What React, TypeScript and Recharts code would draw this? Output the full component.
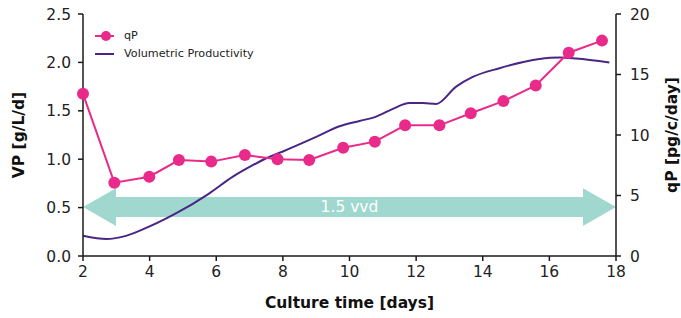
import React from "react";
import {
  ComposedChart,
  Line,
  XAxis,
  YAxis,
  ReferenceArea,
} from "recharts";

const qpDays = [2, 2.94, 3.99, 4.88, 5.85, 6.86, 7.84, 8.79, 9.81, 10.76, 11.67, 12.7, 13.64, 14.62, 15.59, 16.58, 17.58];
const qpValues = [13.4, 6.06, 6.55, 7.93, 7.8, 8.35, 7.99, 7.93, 8.95, 9.45, 10.8, 10.8, 11.8, 12.8, 14.1, 16.8, 17.8];

const vpDays = [2, 2.71, 3.2, 3.76, 4.76, 5.76, 6.5, 7, 7.5, 8, 9, 9.7, 10.3, 10.8, 11.3, 11.8, 12.2, 12.6, 13.2, 13.7, 14.5, 15.7, 16.3, 16.8, 17.8];
const vpValues = [0.21, 0.176, 0.2, 0.27, 0.434, 0.64, 0.82, 0.92, 1.01, 1.08, 1.23, 1.34, 1.395, 1.44, 1.52, 1.58, 1.58, 1.57, 1.75, 1.85, 1.94, 2.035, 2.05, 2.04, 2.0];

const xTicks = [2, 4, 6, 8, 10, 12, 14, 16, 18];
const vpTicks = [0, 0.5, 1, 1.5, 2, 2.5];
const qpTicks = [0, 5, 10, 15, 20];

// arrow band (in VP units) and its label
const arrowSpan = [0.31, 0.7];
const arrowLabel = "1.5 vvd";

const PINK = "#ea2a8a";
const PURPLE = "#4a2586";
const TEAL = "#a0d8cf";
const FONT = "'DejaVu Sans', Verdana, sans-serif";

const qpData = qpDays.map((d, i) => ({ day: d, qP: qpValues[i] }));
const vpData = vpDays.map((d, i) => ({ day: d, vp: vpValues[i] }));

const tickStyle = { fill: "#222", fontSize: 15.5, fontFamily: FONT };
const titleStyle = { fill: "#111", fontSize: 15.5, fontWeight: "bold", fontFamily: FONT };

function Arrow(props: any) {
  const { x, y, width: w, height: h } = props;
  const cy = y + h / 2;
  const b = (h / 2) * 0.53;
  const L = 33;
  const pts = [
    [x, cy],
    [x + L, y],
    [x + L, cy - b],
    [x + w - L, cy - b],
    [x + w - L, y],
    [x + w, cy],
    [x + w - L, y + h],
    [x + w - L, cy + b],
    [x + L, cy + b],
    [x + L, y + h],
  ]
    .map((p) => p.join(","))
    .join(" ");
  return (
    <g>
      <polygon points={pts} fill={TEAL} />
      <text
        x={x + w / 2}
        y={cy}
        fill="#fff"
        fontSize={15.5}
        fontFamily={FONT}
        textAnchor="middle"
        dominantBaseline="central"
      >
        {arrowLabel}
      </text>
    </g>
  );
}

function LegendBox() {
  return (
    <div
      style={{
        position: "absolute",
        left: 95,
        top: 27,
        fontFamily: FONT,
        fontSize: 11.2,
        color: "#222",
        lineHeight: "18px",
      }}
    >
      <div style={{ display: "flex", alignItems: "center" }}>
        <svg width={29} height={18}>
          <line x1={0} x2={19} y1={9} y2={9} stroke={PINK} strokeWidth={2} />
          <circle cx={11} cy={9} r={5} fill={PINK} />
        </svg>
        <span>qP</span>
      </div>
      <div style={{ display: "flex", alignItems: "center" }}>
        <svg width={29} height={18}>
          <line x1={0} x2={19} y1={9} y2={9} stroke={PURPLE} strokeWidth={2} />
        </svg>
        <span>Volumetric Productivity</span>
      </div>
    </div>
  );
}

export default function App() {
  return (
    <div style={{ position: "absolute", left: 0, top: 0, width: 681, height: 318, background: "#fff" }}>
      <ComposedChart width={681} height={318} margin={{ top: 14, right: 0, bottom: 0, left: 0 }}>
        <XAxis
          type="number"
          dataKey="day"
          domain={[2, 18]}
          ticks={xTicks}
          allowDuplicatedCategory={false}
          height={62}
          tick={tickStyle}
          tickSize={5}
          tickMargin={5}
          stroke="#1a1a1a"
          strokeWidth={1.5}
          label={{ value: "Culture time [days]", position: "insideBottom", offset: 10, style: titleStyle }}
        />
        <YAxis
          yAxisId="left"
          orientation="left"
          domain={[0, 2.5]}
          ticks={vpTicks}
          width={83}
          tick={tickStyle}
          tickSize={5}
          tickMargin={7}
          tickFormatter={(v: number) => v.toFixed(1)}
          stroke="#1a1a1a"
          strokeWidth={1.5}
          label={{ value: "VP [g/L/d]", angle: -90, position: "center", dx: -23, style: { ...titleStyle, textAnchor: "middle" } }}
        />
        <YAxis
          yAxisId="right"
          orientation="right"
          domain={[0, 20]}
          ticks={qpTicks}
          width={65}
          tick={tickStyle}
          tickSize={5}
          tickMargin={9}
          stroke="#1a1a1a"
          strokeWidth={1.5}
          label={{ value: "qP [pg/c/day]", angle: -90, position: "center", dx: 23, style: { ...titleStyle, textAnchor: "middle" } }}
        />
        <ReferenceArea
          yAxisId="left"
          x1={2}
          x2={18}
          y1={arrowSpan[0]}
          y2={arrowSpan[1]}
          shape={Arrow}
          ifOverflow="visible"
        />
        <Line
          yAxisId="left"
          data={vpData}
          dataKey="vp"
          type="monotone"
          stroke={PURPLE}
          strokeWidth={2}
          dot={false}
          isAnimationActive={false}
        />
        <Line
          yAxisId="right"
          data={qpData}
          dataKey="qP"
          type="linear"
          stroke={PINK}
          strokeWidth={2}
          dot={{ r: 6, fill: PINK, stroke: PINK, strokeWidth: 0 }}
          isAnimationActive={false}
        />
      </ComposedChart>
      <LegendBox />
    </div>
  );
}
